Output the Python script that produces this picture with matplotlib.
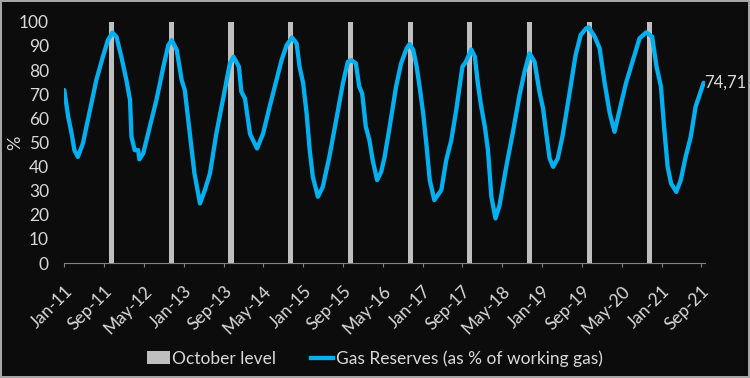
import pandas as pd
import numpy as np
import matplotlib
matplotlib.use("Agg")
import matplotlib.pyplot as plt
import matplotlib.dates as mdates
from matplotlib.patches import Patch
from matplotlib.lines import Line2D

# gas reserves, % of working gas
dates = [
    "2011-01-01", "2011-01-25", "2011-02-15", "2011-03-04", "2011-03-25", "2011-04-25",
    "2011-06-07", "2011-07-16", "2011-08-25", "2011-09-25", "2011-10-22", "2011-11-16",
    "2011-12-16", "2012-01-16", "2012-02-07", "2012-02-16", "2012-03-07", "2012-03-28",
    "2012-04-04", "2012-04-28", "2012-06-07", "2012-07-19", "2012-08-28", "2012-09-28",
    "2012-10-19", "2012-11-19", "2012-12-19", "2013-01-07", "2013-02-07", "2013-03-07",
    "2013-04-10", "2013-05-10", "2013-06-10", "2013-07-19", "2013-08-28", "2013-10-10",
    "2013-11-01", "2013-12-04", "2013-12-19", "2014-01-10", "2014-02-10", "2014-03-25",
    "2014-05-01", "2014-06-10", "2014-07-22", "2014-08-22", "2014-09-22", "2014-10-25",
    "2014-11-22", "2014-12-10", "2015-01-01", "2015-01-22", "2015-02-10", "2015-03-01",
    "2015-04-01", "2015-05-01", "2015-06-10", "2015-07-22", "2015-09-01", "2015-10-01",
    "2015-10-22", "2015-11-19", "2015-12-10", "2015-12-28", "2016-01-19", "2016-02-10",
    "2016-03-01", "2016-03-28", "2016-04-22", "2016-05-13", "2016-06-13", "2016-07-22",
    "2016-08-22", "2016-09-25", "2016-10-13", "2016-11-04", "2016-11-25", "2016-12-16",
    "2017-01-04", "2017-01-25", "2017-02-13", "2017-03-13", "2017-04-25", "2017-05-25",
    "2017-06-25", "2017-07-25", "2017-09-01", "2017-09-22", "2017-10-25", "2017-11-16",
    "2017-12-04", "2017-12-25", "2018-01-16", "2018-02-04", "2018-02-25", "2018-03-22",
    "2018-04-16", "2018-05-25", "2018-07-07", "2018-08-16", "2018-09-16", "2018-10-16",
    "2018-11-16", "2018-12-16", "2019-01-07", "2019-01-28", "2019-02-16", "2019-03-10",
    "2019-04-07", "2019-05-07", "2019-06-16", "2019-07-25", "2019-08-25", "2019-09-28",
    "2019-10-13", "2019-11-19", "2019-12-19", "2020-01-19", "2020-02-19", "2020-03-19",
    "2020-04-19", "2020-05-28", "2020-07-10", "2020-08-19", "2020-09-28", "2020-11-04",
    "2020-12-01", "2020-12-28", "2021-01-16", "2021-02-07", "2021-02-28", "2021-04-01",
    "2021-04-28", "2021-05-28", "2021-06-28", "2021-07-28", "2021-09-15",
]
reserves = [
    71.7, 60.6, 53.7, 46.8, 44.0, 49.6,
    63.4, 75.8, 85.5, 92.4, 95.5, 93.8,
    85.5, 75.8, 67.6, 52.3, 46.8, 46.8,
    43.0, 45.5, 56.5, 68.0, 81.0, 90.3,
    92.4, 88.3, 75.8, 71.7, 53.7, 37.2,
    24.7, 30.3, 37.2, 53.7, 67.6, 82.8,
    85.5, 81.4, 71.0, 68.2, 53.5, 47.5,
    53.7, 64.8, 75.8, 84.1, 90.3, 93.5,
    91.0, 81.4, 74.5, 62.0, 46.8, 35.8,
    27.5, 31.6, 44.0, 59.3, 74.5, 83.4,
    84.1, 82.8, 73.1, 70.3, 56.5, 51.0,
    42.7, 34.4, 37.8, 44.0, 56.5, 73.1,
    82.8, 89.0, 90.8, 88.3, 81.4, 71.7,
    62.0, 48.2, 34.4, 26.1, 30.3, 42.7,
    51.0, 63.4, 81.4, 83.4, 88.5, 85.5,
    74.5, 64.8, 56.5, 46.8, 27.5, 18.5,
    24.0, 39.2, 54.4, 69.6, 79.3, 86.9,
    83.4, 71.0, 64.1, 53.0, 43.4, 39.9,
    43.4, 53.0, 69.6, 86.2, 94.5, 97.3,
    97.7, 93.8, 89.0, 74.5, 62.0, 54.4,
    63.4, 74.5, 84.1, 93.1, 95.6, 93.8,
    81.4, 73.1, 56.5, 39.9, 33.0, 29.5,
    34.4, 44.0, 52.3, 64.8, 74.71,
]
october_years = [2011, 2012, 2013, 2014, 2015, 2016, 2017, 2018, 2019, 2020]
october_level = [100] * len(october_years)
last_label = "74,71"

bg = "#0c0c0c"
txt = "#d9d9d9"
blue = "#00b0f0"
grey = "#bfbfbf"

plt.rcParams['font.family'] = ['Lato', 'DejaVu Sans']

fig = plt.figure(figsize=(7.5, 3.78), dpi=100, facecolor=bg, edgecolor="#a6a6a6", linewidth=1.5)
ax = fig.add_axes([0.0857, 0.304, 0.854, 0.6384])
ax.set_facecolor(bg)

x = pd.to_datetime(dates)
oct_x = pd.to_datetime([f"{y}-10-01" for y in october_years])
ax.bar(oct_x, october_level, width=31, align="edge", color=grey, zorder=1)
ax.plot(x, reserves, color=blue, lw=3.1, solid_capstyle="round",
        solid_joinstyle="round", zorder=2)
ax.text(x[-1] + pd.Timedelta(days=4), reserves[-1], last_label, color=txt,
        fontsize=12, ha="left", va="center")

ax.set_ylim(0, 100)
ax.set_yticks(np.arange(0, 101, 10))
ax.set_xlim(pd.Timestamp("2011-01-01"), pd.Timestamp("2021-09-22"))
ticks = pd.date_range("2011-01-01", "2021-09-01", freq="8MS")
ax.set_xticks(ticks)
ax.xaxis.set_major_formatter(mdates.DateFormatter("%b-%y"))

for s in ["top", "right", "left"]:
    ax.spines[s].set_visible(False)
ax.spines["bottom"].set_color("#808080")
ax.tick_params(axis="y", length=0, pad=11, labelcolor=txt, labelsize=12.5)
ax.tick_params(axis="x", length=3, color="#808080", pad=11, labelcolor=txt, labelsize=12.5)
plt.setp(ax.get_xticklabels(), rotation=45, ha="right", rotation_mode="anchor")
ax.set_ylabel("%", color=txt, fontsize=13)
ax.yaxis.set_label_coords(-0.064, 0.5)

handles = [Patch(facecolor=grey, edgecolor="none"),
           Line2D([0], [0], color=blue, lw=3.1)]
fig.legend(handles, ["October level", "Gas Reserves (as % of working gas)"],
           loc="center", bbox_to_anchor=(0.5, 0.052), ncol=2, frameon=False,
           labelcolor=txt, fontsize=12.5, handlelength=1.3, handletextpad=0.15,
           columnspacing=2.0)

fig.savefig("out.png", dpi=100, facecolor=bg)
